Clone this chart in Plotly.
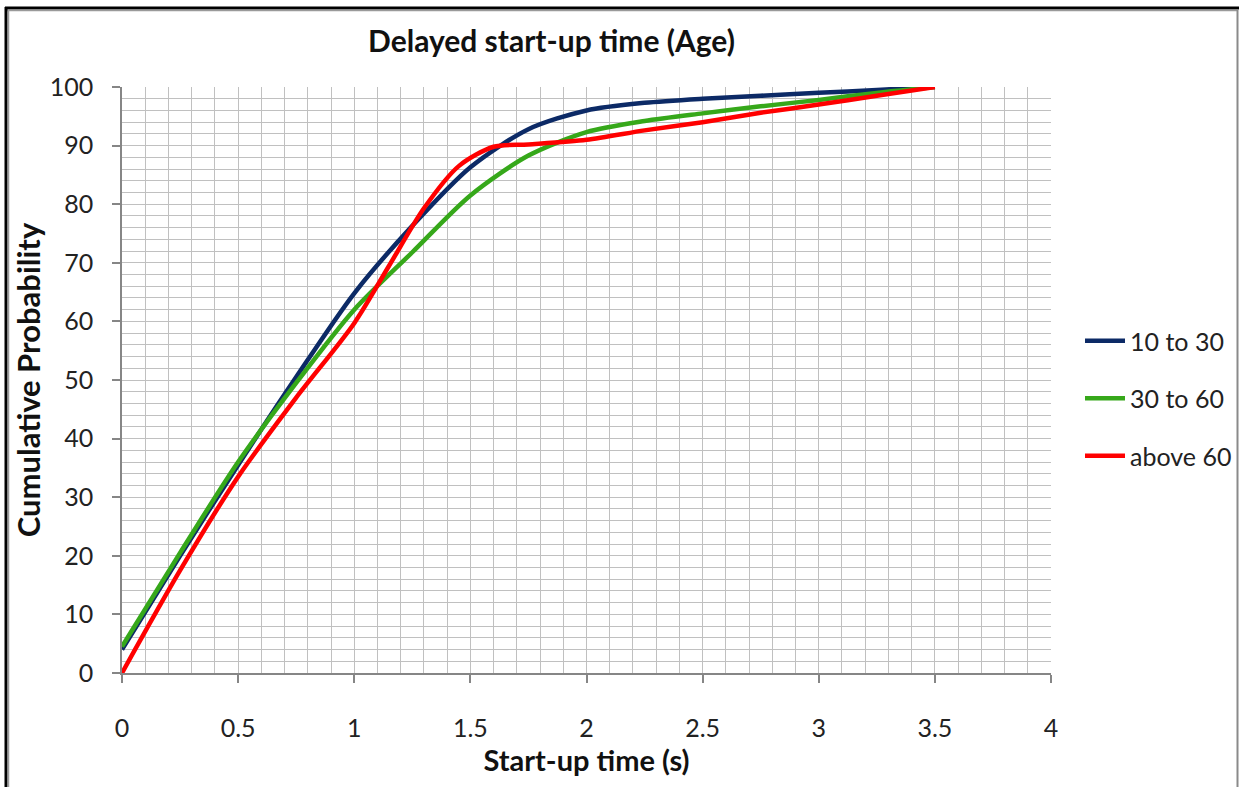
import plotly.graph_objects as go

# ---- data ----
x_blue = [0, 0.25, 0.5, 0.75, 1.0, 1.25, 1.5, 1.75, 2.0, 2.25, 2.5, 2.75, 3.0, 3.25, 3.5]
y_blue = [4, 20, 35.5, 50.5, 64.8, 76.3, 86.3, 92.8, 96.0, 97.3, 98.0, 98.5, 99.0, 99.5, 100]

x_green = [0, 0.25, 0.5, 0.75, 1.0, 1.25, 1.5, 1.75, 2.0, 2.25, 2.5, 2.75, 3.0, 3.25, 3.5]
y_green = [4.5, 20.5, 36, 49.5, 62, 71.8, 81.5, 88.3, 92.3, 94.2, 95.5, 96.7, 97.8, 99.0, 100]

x_red = [0, 0.25, 0.5, 0.75, 1.0, 1.15, 1.3, 1.45, 1.6, 1.75, 2.0, 2.25, 2.5, 2.75, 3.0, 3.25, 3.5]
y_red = [0, 17.5, 33.5, 47, 59.7, 69.5, 79.3, 86.5, 89.8, 90.2, 91.0, 92.6, 94.0, 95.6, 97.0, 98.5, 100]

series_names = ["10 to 30", "30 to 60", "above 60"]
series_colors = ["#0c2a66", "#36a81a", "#ff0000"]

x_ticks = [0, 0.5, 1, 1.5, 2, 2.5, 3, 3.5, 4]
x_tick_labels = ["0", "0.5", "1", "1.5", "2", "2.5", "3", "3.5", "4"]
y_ticks = [0, 10, 20, 30, 40, 50, 60, 70, 80, 90, 100]

FONT = "Lato"

fig = go.Figure()
for i, (xs, ys) in enumerate([(x_blue, y_blue), (x_green, y_green), (x_red, y_red)]):
    fig.add_trace(go.Scatter(
        x=xs, y=ys, mode="lines", name=series_names[i],
        line=dict(color=series_colors[i], width=4.5, shape="spline", smoothing=0.8),
        legendgroup=series_names[i],
    ))

W, H = 1239, 787
L, R, T, B = 122, 188, 87, 114
pw, ph = W - L - R, H - T - B

def px_x(p):
    return (p - L) / pw

def px_y(p):
    return (H - B - p) / ph

grid_col = "#c0c0c0"
axis_col = "#868686"

fig.update_layout(
    width=W, height=H,
    margin=dict(l=L, r=R, t=T, b=B, autoexpand=False),
    paper_bgcolor="white", plot_bgcolor="white",
    font=dict(family=FONT, size=25, color="#222222"),
    title=dict(text="<b>Delayed start-up time (Age)</b>", x=px_x(551.5), xref="paper",
               xanchor="center", y=1 - 41 / H, yanchor="middle", yref="container",
               font=dict(family=FONT, size=30, color="#111111")),
    showlegend=True,
    legend=dict(x=px_x(1080), y=px_y(318), xanchor="left", yanchor="top",
                font=dict(family=FONT, size=25, color="#222222"),
                traceorder="grouped", tracegroupgap=22, itemwidth=40,
                bgcolor="rgba(0,0,0,0)"),
    xaxis=dict(range=[0, 4], tickvals=x_ticks, ticktext=x_tick_labels,
               showgrid=True, gridcolor=grid_col, gridwidth=1,
               minor=dict(dtick=0.1, showgrid=True, gridcolor=grid_col, gridwidth=1),
               showline=True, linecolor=axis_col, linewidth=1.5,
               ticks="outside", ticklen=8, tickcolor=axis_col, tickwidth=1.5,
               ticklabelstandoff=24, zeroline=False, automargin=False,
               title=dict(text="<b>Start-up time (s)</b>", standoff=6,
                          font=dict(family=FONT, size=29, color="#111111"))),
    yaxis=dict(range=[0, 100], tickvals=y_ticks,
               showgrid=True, gridcolor=grid_col, gridwidth=1,
               minor=dict(dtick=2, showgrid=True, gridcolor=grid_col, gridwidth=1),
               showline=True, linecolor=axis_col, linewidth=1.5,
               ticks="outside", ticklen=8, tickcolor=axis_col, tickwidth=1.5,
               ticklabelstandoff=14, zeroline=False, automargin=False,
               title=dict(text="<b>Cumulative Probability</b>", standoff=0,
                          font=dict(family=FONT, size=31, color="#111111"))),
)

# outer frame of the chart picture
shapes = [
    dict(type="line", xref="paper", yref="paper", x0=px_x(5), x1=px_x(1239), y0=px_y(8), y1=px_y(8),
         line=dict(color="black", width=3)),
    dict(type="line", xref="paper", yref="paper", x0=px_x(6), x1=px_x(1238), y0=px_y(10.5), y1=px_y(10.5),
         line=dict(color="#9a9a9a", width=1.5)),
    dict(type="line", xref="paper", yref="paper", x0=px_x(6), x1=px_x(6), y0=px_y(7), y1=px_y(790),
         line=dict(color="black", width=3)),
    dict(type="line", xref="paper", yref="paper", x0=px_x(8.5), x1=px_x(8.5), y0=px_y(10), y1=px_y(790),
         line=dict(color="#9a9a9a", width=1.5)),
    dict(type="line", xref="paper", yref="paper", x0=px_x(1237.5), x1=px_x(1237.5), y0=px_y(9), y1=px_y(790),
         line=dict(color="#8a8a8a", width=2)),
]
fig.update_layout(shapes=shapes)

fig.write_html("out.html")
